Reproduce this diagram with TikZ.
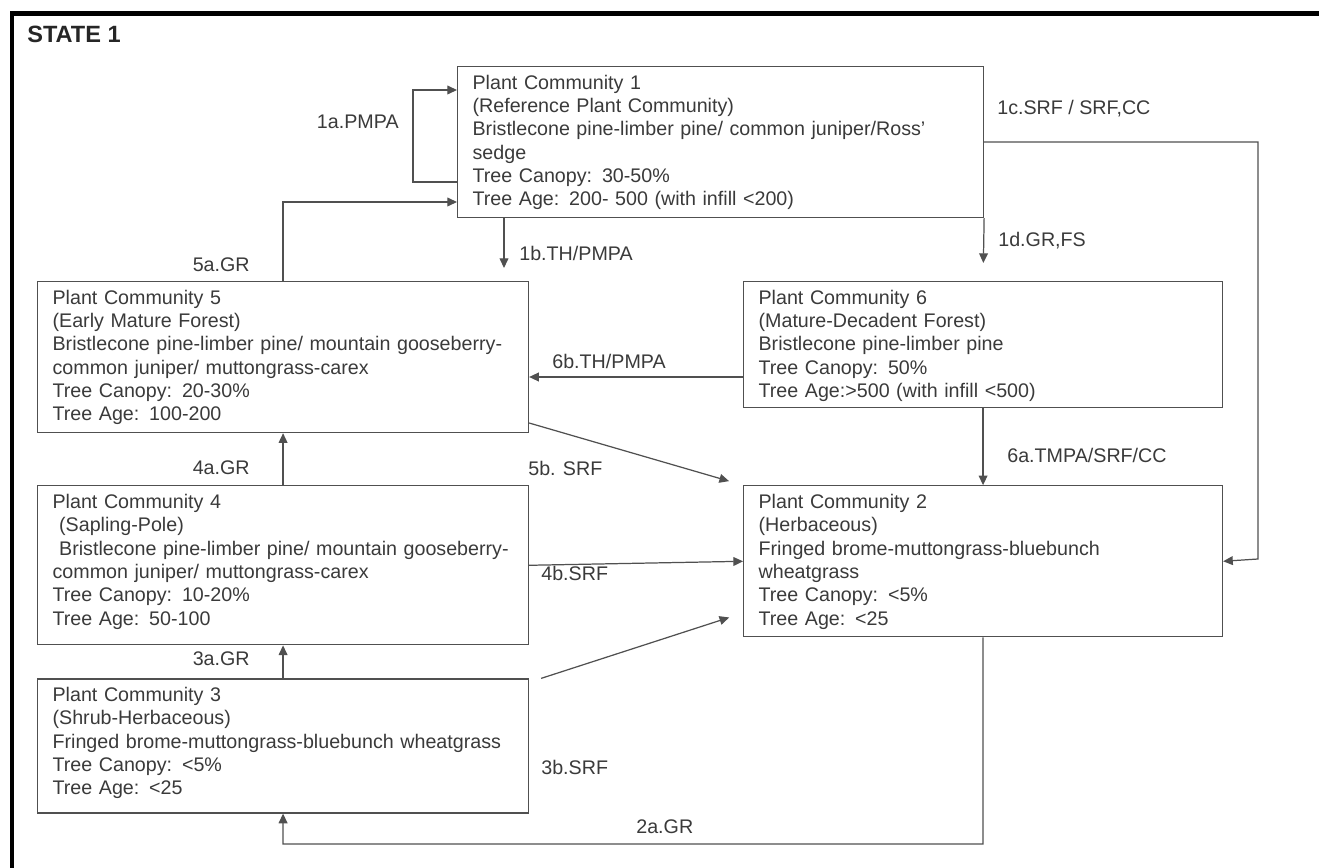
\documentclass[tikz,border=0pt]{standalone}
\usepackage{fontspec}
\setmainfont{Liberation Sans}
\usetikzlibrary{arrows.meta, positioning}

\definecolor{textgray}{HTML}{3A3A3A}
\definecolor{linegray}{HTML}{505050}

\begin{document}
\begin{tikzpicture}[
    x=0.02cm, y=-0.02cm,
    pcbox/.style={rectangle, draw=linegray, line width=0.7pt, align=left, text=textgray, inner xsep=0.3cm, inner ysep=0.15cm, text height=0.3cm, font=\fontsize{11.2}{13.3}\selectfont},
    lab/.style={inner sep=0pt, text=textgray, font=\fontsize{11.2}{13.3}\selectfont},
    arrow/.style={-{Triangle[length=5.5pt, width=5pt]}, draw=linegray, line width=0.7pt}
]
    \useasboundingbox (0,0) rectangle (1319,868);
    \draw[line width=0.1cm] (12,868) -- (12,14) -- (1319,14);
    \node[anchor=west, inner sep=0pt, font=\bfseries\fontsize{13.4}{16}\selectfont, text=black!85] (title) at (27,34) {STATE 1};

    % plant communities
    \node[pcbox, anchor=north west, text width=9.92cm, text depth=2.42cm] (pc1) at (457,66) {Plant Community 1\\(Reference Plant Community)\\Bristlecone pine-limber pine/ common juniper/Ross'\\sedge\\Tree Canopy: 30-50\%\\Tree Age: 200- 500 (with infill <200)};
    \node[pcbox, anchor=north west, text width=9.22cm, text depth=2.42cm] (pc5) at (37,281) {Plant Community 5\\(Early Mature Forest)\\Bristlecone pine-limber pine/ mountain gooseberry-\\common juniper/ muttongrass-carex\\Tree Canopy: 20-30\%\\Tree Age: 100-200};
    \node[pcbox, below=1.04cm of pc5, text width=9.22cm, text depth=2.58cm] (pc4) {Plant Community 4\\\ (Sapling-Pole)\\\ Bristlecone pine-limber pine/ mountain gooseberry-\\common juniper/ muttongrass-carex\\Tree Canopy: 10-20\%\\Tree Age: 50-100};
    \node[pcbox, below=0.66cm of pc4, text width=9.22cm, text depth=2.08cm] (pc3) {Plant Community 3\\(Shrub-Herbaceous)\\Fringed brome-muttongrass-bluebunch wheatgrass\\Tree Canopy: <5\%\\Tree Age: <25};
    \node[pcbox, anchor=north west, text width=8.98cm, text depth=1.92cm] (pc6) at (743,281) {Plant Community 6\\(Mature-Decadent Forest)\\Bristlecone pine-limber pine\\Tree Canopy: 50\%\\Tree Age:>500 (with infill <500)};
    \node[pcbox, below=1.54cm of pc6, text width=8.98cm, text depth=2.42cm] (pc2) {Plant Community 2\\(Herbaceous)\\Fringed brome-muttongrass-bluebunch\\wheatgrass\\Tree Canopy: <5\%\\Tree Age: <25};

    % transitions
    \coordinate (c1c) at (1258,559);
    \coordinate (c2a) at (983,844);
    \draw[arrow] (pc1.west |- 0,182) -- ++(-44,0) |- (pc1.west |- 0,90);
    \draw[arrow] (pc5.north) |- (pc1.west |- 0,202);
    \draw[arrow, shorten >=0.26cm] (pc1.south -| 504,0) -- (pc5.north -| 504,0);
    \draw[arrow] (pc1.east) -| (c1c) -- (pc2.east);
    \draw[arrow, shorten >=0.36cm] (pc1.south east) -- (pc6.north);
    \draw[arrow] (pc6.west |- 0,377) -- (pc5.east |- 0,377);
    \draw[arrow] (pc6.south) -- (pc2.north);
    \draw[arrow, shorten >=0.29cm] (pc5.east |- 0,423) -- (pc2.north west);
    \draw[arrow] (pc4.east) -- (pc2.west);
    \draw[arrow, shorten >=0.29cm] ([xshift=0.24cm]pc3.north east) -- (pc2.west |- 0,613);
    \draw[arrow] (pc4.north) -- (pc5.south);
    \draw[arrow] (pc3.north) -- (pc4.south);
    \draw[arrow] (pc2.south) -- (c2a) -| (pc3.south);

    % labels
    \node[lab, anchor=east] (l1a) at (399,122) {1a.PMPA};
    \node[lab, anchor=west] (l1c) at (997,109) {1c.SRF / SRF,CC};
    \node[lab, anchor=east] (l5a) at (250,265) {5a.GR};
    \node[lab, anchor=west] (l1b) at (519,253) {1b.TH/PMPA};
    \node[lab, anchor=west] (l1d) at (998,241) {1d.GR,FS};
    \node[lab, anchor=west] (l6b) at (552,361) {6b.TH/PMPA};
    \node[lab, anchor=east] (l4a) at (250,468) {4a.GR};
    \node[lab, anchor=west] (l5b) at (528,468) {5b. SRF};
    \node[lab, anchor=west] (l6a) at (1007,455) {6a.TMPA/SRF/CC};
    \node[lab, anchor=west] (l4b) at (541,573) {4b.SRF};
    \node[lab, anchor=east] (l3a) at (250,659) {3a.GR};
    \node[lab, anchor=west] (l3b) at (541,767) {3b.SRF};
    \node[lab, anchor=west] (l2a) at (636,827) {2a.GR};

\end{tikzpicture}
\end{document}
